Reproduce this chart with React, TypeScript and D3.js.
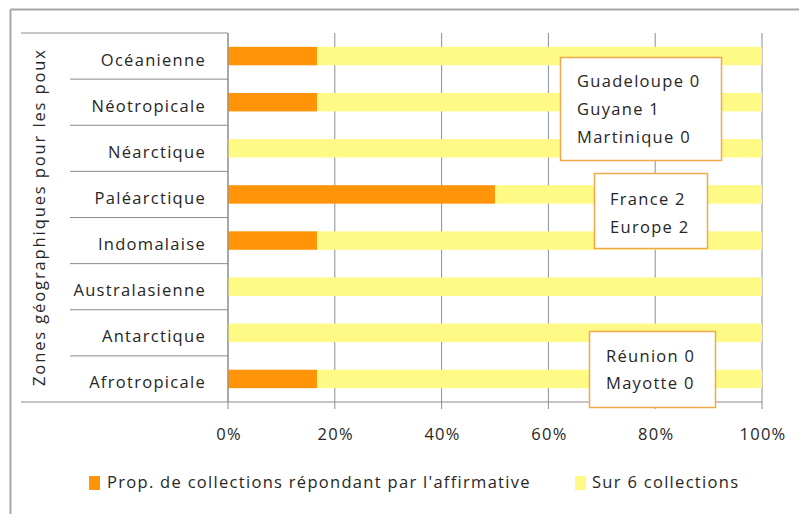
import React from "react";
import * as d3 from "d3";

const categories = ["Océanienne", "Néotropicale", "Néarctique", "Paléarctique", "Indomalaise", "Australasienne", "Antarctique", "Afrotropicale"];
const positiveCounts = [1, 1, 0, 3, 1, 0, 0, 1];
const totalCollections = 6;
const xTicks = [0, 0.2, 0.4, 0.6, 0.8, 1];
const seriesNames = ["Prop. de collections répondant par l'affirmative", "Sur 6 collections"];
const axisTitle = "Zones géographiques pour les poux";
const boxGuadeloupe = ["Guadeloupe 0", "Guyane 1", "Martinique 0"];
const boxFrance = ["France 2", "Europe 2"];
const boxReunion = ["Réunion 0", "Mayotte 0"];

const ORANGE = "#FF9408";
const YELLOW = "#FFF985";
const FONT = "'Open Sans', sans-serif";
const FS = 16.5;
const LS = 1.3;
const TXT = "#262626";
const BOX = "#F0A848";

export default function App() {
  const W = 799, H = 514;
  const left = 228, right = 762, top = 33, bottom = 402;
  const x = d3.scaleLinear().domain([0, 1]).range([left, right]);
  const y = d3.scaleBand().domain(categories).range([top, bottom]).paddingInner(0.6).paddingOuter(0.3);
  const band = d3.scaleBand().domain(categories).range([top, bottom]);
  const stackData = categories.map((c, i) => ({ cat: c, pos: positiveCounts[i] / totalCollections, rest: 1 - positiveCounts[i] / totalCollections }));
  const stack = d3.stack<any>().keys(["pos", "rest"])(stackData);
  const colors = [ORANGE, YELLOW];
  const pct = d3.format(".0%");

  const txt = (s: string, px: number, py: number, anchor = "start") => (
    <text key={s + px + py} x={px} y={py} textAnchor={anchor} fontFamily={FONT} fontSize={FS} letterSpacing={LS} fill={TXT}>{s}</text>
  );

  return (
    <svg width={W} height={H} style={{ position: "absolute", left: 0, top: 0, background: "#fff" }}>
      <rect x={0} y={0} width={W} height={H} fill="#fff" />
      <line x1={10.5} y1={9.5} x2={W} y2={9.5} stroke="#a6a6a6" strokeWidth={2} />
      <line x1={10.5} y1={9.5} x2={10.5} y2={H} stroke="#a6a6a6" strokeWidth={2} />
      {xTicks.map((t) => (
        <line key={t} x1={x(t)} x2={x(t)} y1={top} y2={bottom + 7} stroke="#8c8c9c" strokeWidth={1} />
      ))}
      {stack.map((s, si) =>
        s.map((d: any, i: number) => (
          <rect key={si + "-" + i} x={x(d[0])} width={x(d[1]) - x(d[0])} y={y(categories[i])} height={y.bandwidth()} fill={colors[si]} />
        ))
      )}
      <line x1={21} x2={left} y1={top} y2={top} stroke="#8c8c8c" strokeWidth={1} />
      {categories.slice(1).map((c) => (
        <line key={c} x1={70} x2={left} y1={band(c)} y2={band(c)} stroke="#8c8c8c" strokeWidth={1} />
      ))}
      <line x1={21} x2={right} y1={bottom} y2={bottom} stroke="#8c8c8c" strokeWidth={1} />
      <line x1={left} x2={left} y1={top} y2={bottom} stroke="#8c8c8c" strokeWidth={1} />
      {categories.map((c) => txt(c, 206, band(c)! + band.bandwidth() / 2 + 9.5, "end"))}
      <text transform={`translate(45, ${218}) rotate(-90)`} textAnchor="middle" fontFamily={FONT} fontSize={FS} textLength={336} lengthAdjust="spacing" fill={TXT}>{axisTitle}</text>
      {xTicks.map((t) => txt(pct(t), x(t) + 1, 440, "middle"))}
      <rect x={560.5} y={57.5} width={161} height={103} fill="#fff" stroke={BOX} strokeWidth={1.5} />
      {boxGuadeloupe.map((l, i) => txt(l, 577, 87 + i * 28))}
      <rect x={594.5} y={173.5} width={113} height={75} fill="#fff" stroke={BOX} strokeWidth={1.5} />
      {boxFrance.map((l, i) => txt(l, 610, 205 + i * 28))}
      <rect x={589.5} y={331.5} width={126} height={76} fill="#fff" stroke={BOX} strokeWidth={1.5} />
      {boxReunion.map((l, i) => txt(l, 606, 362 + i * 27))}
      <rect x={89} y={476} width={11} height={14} fill={ORANGE} />
      {txt(seriesNames[0], 107, 488)}
      <rect x={575} y={476} width={11} height={14} fill={YELLOW} />
      {txt(seriesNames[1], 592, 488)}
    </svg>
  );
}
